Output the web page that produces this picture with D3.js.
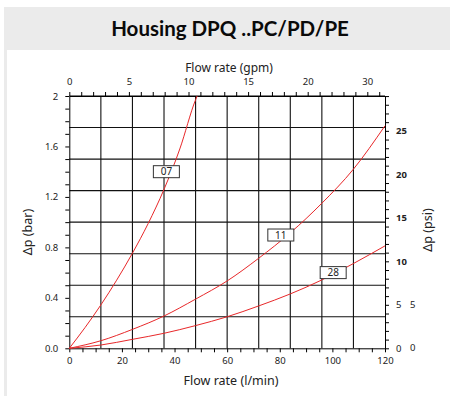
<!DOCTYPE html>
<html><head><meta charset="utf-8">
<script src="https://cdn.jsdelivr.net/npm/d3@7"></script>
<style>
html,body{margin:0;padding:0;background:#fff;}
svg{display:block;}
</style></head>
<body>
<svg id="c" width="450" height="396"></svg>
<script>
// ---- data ----
const flowLmin07 = [0, 6, 12, 18, 24, 30, 36, 42, 48, 48.6];
const dp07       = [0, 0.165, 0.344, 0.54, 0.754, 0.99, 1.26, 1.58, 1.97, 2.0];
const flowLmin11 = [0, 12, 24, 36, 48, 60, 72, 84, 96, 108, 120];
const dp11       = [0, 0.06, 0.15, 0.256, 0.39, 0.534, 0.714, 0.915, 1.15, 1.42, 1.764];
const flowLmin28 = [0, 12, 24, 36, 48, 60, 72, 84, 96, 108, 120];
const dp28       = [0, 0.026, 0.071, 0.119, 0.18, 0.25, 0.336, 0.431, 0.542, 0.672, 0.812];
const seriesNames = ["07", "11", "28"];
const labelQ   = [36.9, 80.4, 100.3];
const labelDp  = [1.40, 0.898, 0.60];
const barTicks = [0, 0.4, 0.8, 1.2, 1.6, 2];
const barTickLabels = ["0.0", "0.4", "0.8", "1.2", "1.6", "2"];
const lminTicks = [0, 20, 40, 60, 80, 100, 120];
const gpmTicks = [0, 5, 10, 15, 20, 25];
const gpmTickLabels = ["0", "5", "10", "15", "20", "30"];
const psiTicks = [0, 5, 10, 15, 20, 25];
const psiExtraTicks = [0, 5];

const title = "Housing DPQ ..PC/PD/PE";

// ---- layout ----
const svg = d3.select("#c");
const L = 69.3, R = 385, T = 96, B = 348.3;
const x = d3.scaleLinear().domain([0, 120]).range([L, R]);
const y = d3.scaleLinear().domain([0, 2]).range([B, T]);
const xTop = d3.scaleLinear().domain([0, (R - L) / 11.92]).range([L, R]);
const yPsi = d3.scaleLinear().domain([0, 2 * 14.5038]).range([B, T]);

// card
svg.append("rect").attr("x", 4).attr("y", 7).attr("width", 446).attr("height", 43).attr("fill", "#ebebeb");
svg.append("rect").attr("x", 4).attr("y", 50).attr("width", 3).attr("height", 346).attr("fill", "#ebebeb");
svg.append("text").attr("x", 230).attr("y", 36).attr("text-anchor", "middle")
  .attr("font-family", "Lato, 'Noto Sans', sans-serif").attr("font-weight", "bold").attr("font-size", 20.5)
  .attr("fill", "#0a0a0a").text(title);

// grid
const g = svg.append("g");
for (let i = 1; i < 10; i++) {
  const gx = L + (R - L) * i / 10;
  g.append("line").attr("x1", gx).attr("x2", gx).attr("y1", T).attr("y2", B).attr("stroke", "#111").attr("stroke-width", 1.1);
}
for (let i = 1; i < 8; i++) {
  const gy = T + (B - T) * i / 8;
  g.append("line").attr("x1", L).attr("x2", R).attr("y1", gy).attr("y2", gy).attr("stroke", "#111").attr("stroke-width", 1.1);
}

// axes
const tickFont = "'Noto Sans', sans-serif";
function styleAxis(sel) {
  sel.selectAll("path.domain").attr("stroke", "#000");
  sel.selectAll(".tick line").attr("stroke", "#000");
  sel.selectAll("text").attr("font-family", tickFont).attr("font-size", 9.5).attr("fill", "#222");
}
const axB = svg.append("g").attr("transform", `translate(0,${B})`)
  .call(d3.axisBottom(x).tickValues(d3.range(0, 121, 5)).tickSize(4).tickSizeOuter(0)
    .tickFormat(d => lminTicks.includes(d) ? String(d) : ""));
styleAxis(axB); axB.selectAll("text").attr("dy", "0.9em");

const axL = svg.append("g").attr("transform", `translate(${L},0)`)
  .call(d3.axisLeft(y).tickValues(d3.range(0, 20.5, 1).map(v => v / 10)).tickSize(4).tickSizeOuter(0)
    .tickFormat(d => { const i = barTicks.findIndex(b => Math.abs(b - d) < 1e-6); return i >= 0 ? barTickLabels[i] : ""; }));
styleAxis(axL); axL.selectAll("text").attr("x", -11);

const axT = svg.append("g").attr("transform", `translate(0,${T})`)
  .call(d3.axisTop(xTop).tickValues(d3.range(0, 27, 1)).tickSize(4).tickSizeOuter(0)
    .tickFormat(d => { const i = gpmTicks.indexOf(d); return i >= 0 ? gpmTickLabels[i] : ""; }));
styleAxis(axT); axT.selectAll("text").attr("dy", "-0.4em");
axT.append("line").attr("x1", L).attr("x2", R).attr("stroke", "#000");

const axR = svg.append("g").attr("transform", `translate(${R},0)`)
  .call(d3.axisRight(yPsi).tickValues(d3.range(0, 30, 1)).tickSize(4).tickSizeOuter(0)
    .tickFormat(d => psiTicks.includes(d) ? String(d) : ""));
styleAxis(axR);
axR.selectAll("text").attr("x", 11).attr("font-weight", d => d >= 10 ? "bold" : "normal");
axR.selectAll(".extra").data(psiExtraTicks).enter().append("text")
  .attr("x", 25).attr("y", d => yPsi(d)).attr("dy", "0.32em")
  .attr("font-family", tickFont).attr("font-size", 9.5).attr("fill", "#222").text(d => d);

// axis titles
const titleFont = "'Noto Sans', sans-serif";
svg.append("text").attr("x", 229).attr("y", 72).attr("text-anchor", "middle")
  .attr("font-family", titleFont).attr("font-size", 12).attr("fill", "#222").text("Flow rate (gpm)");
svg.append("text").attr("x", 231).attr("y", 385).attr("text-anchor", "middle")
  .attr("font-family", titleFont).attr("font-size", 12.5).attr("fill", "#222").text("Flow rate (l/min)");
svg.append("text").attr("transform", "translate(32,232) rotate(-90)").attr("text-anchor", "middle")
  .attr("font-family", titleFont).attr("font-size", 12.5).attr("fill", "#222").text("Δp (bar)");
svg.append("text").attr("transform", "translate(432,230) rotate(-90)").attr("text-anchor", "middle")
  .attr("font-family", titleFont).attr("font-size", 12.5).attr("fill", "#222").text("Δp (psi)");

// curves
const series = [
  flowLmin07.map((q, i) => [q, dp07[i]]),
  flowLmin11.map((q, i) => [q, dp11[i]]),
  flowLmin28.map((q, i) => [q, dp28[i]])
];
const line = d3.line().x(d => x(d[0])).y(d => y(d[1])).curve(d3.curveMonotoneX);
svg.append("g").selectAll("path").data(series).enter().append("path")
  .attr("d", line).attr("fill", "none").attr("stroke", "#e8282a").attr("stroke-width", 1);

// labels
const lab = svg.append("g").selectAll("g").data(seriesNames).enter().append("g")
  .attr("transform", (d, i) => `translate(${x(labelQ[i])},${y(labelDp[i])})`);
lab.append("rect").attr("x", -13).attr("y", -6).attr("width", 26).attr("height", 12)
  .attr("fill", "#fff").attr("stroke", "#333").attr("stroke-width", 1);
lab.append("text").attr("text-anchor", "middle").attr("dy", "0.35em")
  .attr("font-family", tickFont).attr("font-size", 10).attr("fill", "#222").text(d => d);
</script>
</body></html>
